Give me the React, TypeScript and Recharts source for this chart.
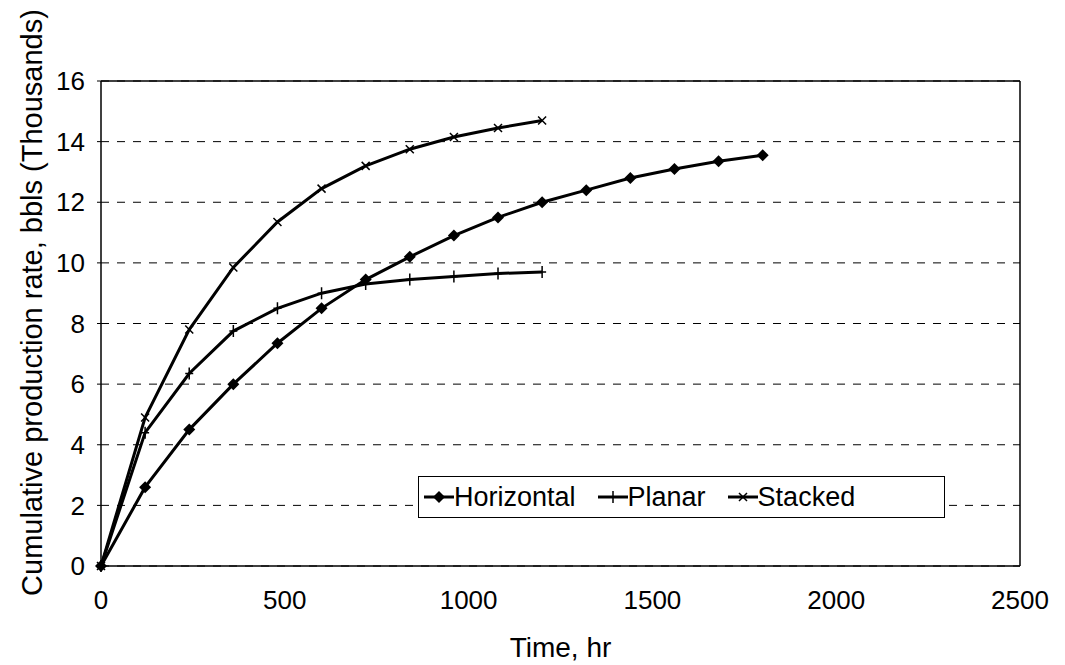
import React from "react";
import {
  LineChart,
  Line,
  XAxis,
  YAxis,
  CartesianGrid,
  ReferenceLine,
  Label,
} from "recharts";

const hours = [0, 120, 240, 360, 480, 600, 720, 840, 960, 1080, 1200, 1320, 1440, 1560, 1680, 1800];
const horizontal = [0, 2.6, 4.5, 6.0, 7.35, 8.5, 9.45, 10.2, 10.9, 11.5, 12.0, 12.4, 12.8, 13.1, 13.35, 13.55];
const planar = [0, 4.4, 6.35, 7.75, 8.5, 9.0, 9.3, 9.45, 9.55, 9.65, 9.7];
const stacked = [0, 4.9, 7.8, 9.85, 11.35, 12.45, 13.2, 13.75, 14.15, 14.45, 14.7];

const xTicks = [0, 500, 1000, 1500, 2000, 2500];
const yTicks = [0, 2, 4, 6, 8, 10, 12, 14, 16];

const FONT = "'Liberation Sans', Arial, sans-serif";
const TICK = { fill: "#000", fontSize: 26, fontFamily: FONT };

const toRows = (vals: number[]) => vals.map((v, i) => ({ t: hours[i], v }));

function Diamond({ cx, cy }: any) {
  if (cx == null || cy == null) return null;
  const r = 6;
  return (
    <path
      d={`M${cx},${cy - r}L${cx + r},${cy}L${cx},${cy + r}L${cx - r},${cy}Z`}
      fill="#000"
    />
  );
}

function Plus({ cx, cy }: any) {
  if (cx == null || cy == null) return null;
  return <path d={`M${cx},${cy - 6}L${cx},${cy + 6}M${cx - 4},${cy}L${cx + 4},${cy}`} stroke="#000" strokeWidth={1.5} />;
}

function Cross({ cx, cy }: any) {
  if (cx == null || cy == null) return null;
  const r = 4;
  return (
    <path
      d={`M${cx - r},${cy - r}L${cx + r},${cy + r}M${cx - r},${cy + r}L${cx + r},${cy - r}`}
      stroke="#000"
      strokeWidth={1.5}
    />
  );
}

const SERIES = [
  { name: "Horizontal", data: toRows(horizontal), Dot: Diamond },
  { name: "Planar", data: toRows(planar), Dot: Plus },
  { name: "Stacked", data: toRows(stacked), Dot: Cross },
];

// legend box sits inside the plot, like the Excel original
function LegendBox() {
  return (
    <div
      style={{
        position: "absolute",
        left: 410,
        top: 468,
        width: 527,
        height: 42,
        boxSizing: "border-box",
        border: "1.5px solid #000",
        background: "#fff",
        display: "flex",
        alignItems: "center",
        paddingLeft: 3,
        fontFamily: FONT,
        fontSize: 27,
        color: "#000",
      }}
    >
      {SERIES.map(({ name, Dot }) => (
        <span key={name} style={{ display: "flex", alignItems: "center", marginRight: 20 }}>
          <svg width={32} height={20}>
            <line x1={2} y1={10} x2={32} y2={10} stroke="#000" strokeWidth={3} />
            <Dot cx={17} cy={10} />
          </svg>
          <span>{name}</span>
        </span>
      ))}
    </div>
  );
}

export default function App() {
  return (
    <div style={{ position: "relative", width: 1049, height: 657, background: "#fff" }}>
      <LineChart
        width={1049}
        height={657}
        margin={{ top: 73, right: 37, left: 0, bottom: 0 }}
      >
        <CartesianGrid
          horizontal
          vertical={false}
          stroke="#000"
          strokeWidth={1}
          strokeDasharray="8 8"
        />
        <XAxis
          type="number"
          dataKey="t"
          domain={[0, 2500]}
          ticks={xTicks}
          allowDuplicatedCategory={false}
          tick={TICK}
          tickLine={false}
          axisLine={{ stroke: "#000", strokeWidth: 1.5 }}
          height={99}
          tickMargin={19}
        >
          <Label
            value="Time, hr"
            position="insideBottom"
            offset={8}
            style={{ fill: "#000", fontSize: 28, fontFamily: FONT }}
          />
        </XAxis>
        <YAxis
          type="number"
          domain={[0, 16]}
          ticks={yTicks}
          tick={TICK}
          tickSize={4}
          tickLine={{ stroke: "#000" }}
          axisLine={{ stroke: "#000", strokeWidth: 1.5 }}
          width={93}
          tickMargin={12}
        >
          <Label
            value="Cumulative production rate, bbls (Thousands)"
            angle={-90}
            position="insideLeft"
            offset={24}
            dy={-21}
            style={{ fill: "#000", fontSize: 29, fontFamily: FONT, textAnchor: "middle" }}
          />
        </YAxis>
        <ReferenceLine y={16} stroke="#000" strokeWidth={1.5} />
        <ReferenceLine x={2500} stroke="#000" strokeWidth={1.5} />
        {SERIES.map(({ name, data, Dot }) => (
          <Line
            key={name}
            data={data}
            dataKey="v"
            name={name}
            type="linear"
            stroke="#000"
            strokeWidth={3}
            dot={<Dot />}
            activeDot={false}
            isAnimationActive={false}
          />
        ))}
      </LineChart>
      <LegendBox />
    </div>
  );
}
